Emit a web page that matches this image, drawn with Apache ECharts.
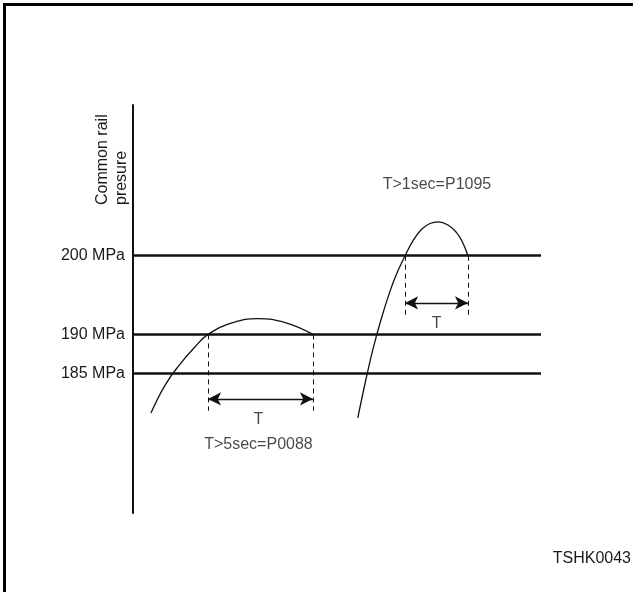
<!DOCTYPE html>
<html>
<head>
<meta charset="utf-8">
<title>Common rail pressure fault windows</title>
<script src="https://cdn.jsdelivr.net/npm/echarts@6/dist/echarts.min.js"></script>
<style>
  html, body { margin: 0; padding: 0; background: #fff; overflow: hidden; }
  #chart { position: absolute; left: 0; top: 0; width: 633px; height: 592px; }
</style>
</head>
<body>
<div id="chart"></div>
<script>
// Pressure thresholds (MPa) and their labels
const pressureLevels = [200, 190, 185];
const levelLabels = ['200 MPa', '190 MPa', '185 MPa'];

// Slow overshoot: stays above 190 MPa for longer than 5 s (P0088)
const slowTime = [4.4, 7.8, 11.5, 15.0, 18.4, 24.5, 30.6, 37.3, 44.1];
const slowPressure = [180.0, 183.5, 186.2, 188.3, 190.0, 191.5, 192.0, 191.5, 190.0];

// Fast spike: stays above 200 MPa for longer than 1 s (P1095)
const spikeTime = [55.1, 57.1, 58.8, 60.8, 63.0, 64.7, 66.7, 68.6, 70.8, 72.8, 74.8, 77.2, 79.2, 80.6, 82.1];
const spikePressure = [179.4, 184.3, 188.1, 191.9, 195.5, 197.8, 200.0, 201.9, 203.4, 204.1, 204.3, 203.9, 203.0, 201.9, 200.0];

// Time windows T where the pressure exceeds its limit
const p0088Window = [18.4, 44.1];
const p1095Window = [66.7, 82.1];

// Annotation levels (MPa) for the window guides
const p0088Guide = { top: 190, bottom: 180.3, arrow: 181.8, tLabel: 179.2, caption: 176.0 };
const p1095Guide = { top: 200, bottom: 192.5, arrow: 194.0, tLabel: 191.4, caption: 209.0 };

const captions = ['T>5sec=P0088', 'T>1sec=P1095'];

const FONT = "'Liberation Sans', Arial, Helvetica, sans-serif";
const INK = '#111';
const TXT = '#1a1a1a';
const FS = 16;

const zip = (xs, ys) => xs.map((x, i) => [x, ys[i]]);

const guideSegments = [];
[[p0088Window, p0088Guide], [p1095Window, p1095Guide]].forEach(([w, g]) => {
  w.forEach(t => guideSegments.push([{ coord: [t, g.top] }, { coord: [t, g.bottom] }]));
});

const arrowSegments = [[p0088Window, p0088Guide], [p1095Window, p1095Guide]].map(([w, g]) =>
  [{ coord: [w[0], g.arrow] }, { coord: [w[1], g.arrow] }]
);

const mid = w => (w[0] + w[1]) / 2;
const notes = [
  { name: 'T', value: [mid(p0088Window) - 0.5, p0088Guide.tLabel] },
  { name: captions[0], value: [mid(p0088Window) - 0.5, p0088Guide.caption] },
  { name: 'T', value: [mid(p1095Window), p1095Guide.tLabel] },
  { name: captions[1], value: [74.5, p1095Guide.caption] }
];

const chart = echarts.init(document.getElementById('chart'), null, { renderer: 'canvas' });

chart.setOption({
  backgroundColor: '#fff',
  animation: false,
  textStyle: { fontFamily: FONT },
  grid: { left: 133, right: 92, top: 105, bottom: 79, containLabel: false },
  xAxis: { type: 'value', min: 0, max: 100, show: false },
  yAxis: {
    type: 'value', min: 167.3, max: 219.16,
    axisLine: { show: true, onZero: false, lineStyle: { color: INK, width: 2 } },
    axisTick: { show: false }, axisLabel: { show: false }, splitLine: { show: false }
  },
  graphic: [
    {
      // page frame: left and top edges only
      type: 'polyline', silent: true,
      shape: { points: [[4.5, 600], [4.5, 4.5], [640, 4.5]] },
      style: { stroke: '#000', lineWidth: 3, fill: null }
    },
    {
      type: 'text', x: 93, y: 205, rotation: Math.PI / 2,
      style: { text: 'Common rail\npresure', font: FS + 'px ' + FONT, fill: TXT,
               align: 'left', verticalAlign: 'top', lineHeight: 19 }
    },
    {
      type: 'text', right: 2, top: 551,
      style: { text: 'TSHK0043', font: FS + 'px ' + FONT, fill: TXT }
    }
  ],
  series: [
    {
      name: 'Thresholds', type: 'line', data: [], silent: true,
      markLine: {
        silent: true, symbol: 'none',
        lineStyle: { color: INK, width: 2.5, type: 'solid' },
        label: {
          show: true, position: 'start', distance: 8, color: TXT,
          fontSize: FS, fontFamily: FONT,
          formatter: p => levelLabels[pressureLevels.indexOf(p.value)]
        },
        data: pressureLevels.map(v => ({ yAxis: v }))
      }
    },
    {
      name: 'P0088', type: 'line', smooth: 0.45, symbol: 'none',
      lineStyle: { color: INK, width: 1.3 },
      data: zip(slowTime, slowPressure)
    },
    {
      name: 'P1095', type: 'line', smooth: 0.45, symbol: 'none',
      lineStyle: { color: INK, width: 1.3 },
      data: zip(spikeTime, spikePressure)
    },
    {
      name: 'Window guides', type: 'line', data: [], silent: true,
      markLine: {
        silent: true, symbol: 'none', label: { show: false },
        lineStyle: { color: INK, width: 1, type: [5, 4] },
        data: guideSegments
      }
    },
    {
      name: 'Window arrows', type: 'line', data: [], silent: true,
      markLine: {
        silent: true, symbol: ['arrow', 'arrow'], symbolSize: [10, 13],
        label: { show: false },
        lineStyle: { color: INK, width: 1.4, type: 'solid' },
        data: arrowSegments
      }
    },
    {
      name: 'Notes', type: 'scatter', symbolSize: 1, silent: true,
      itemStyle: { color: 'rgba(0,0,0,0)' },
      label: {
        show: true, position: 'inside', color: TXT, fontSize: FS, fontFamily: FONT,
        formatter: p => p.name
      },
      data: notes
    }
  ]
});
</script>
</body>
</html>
